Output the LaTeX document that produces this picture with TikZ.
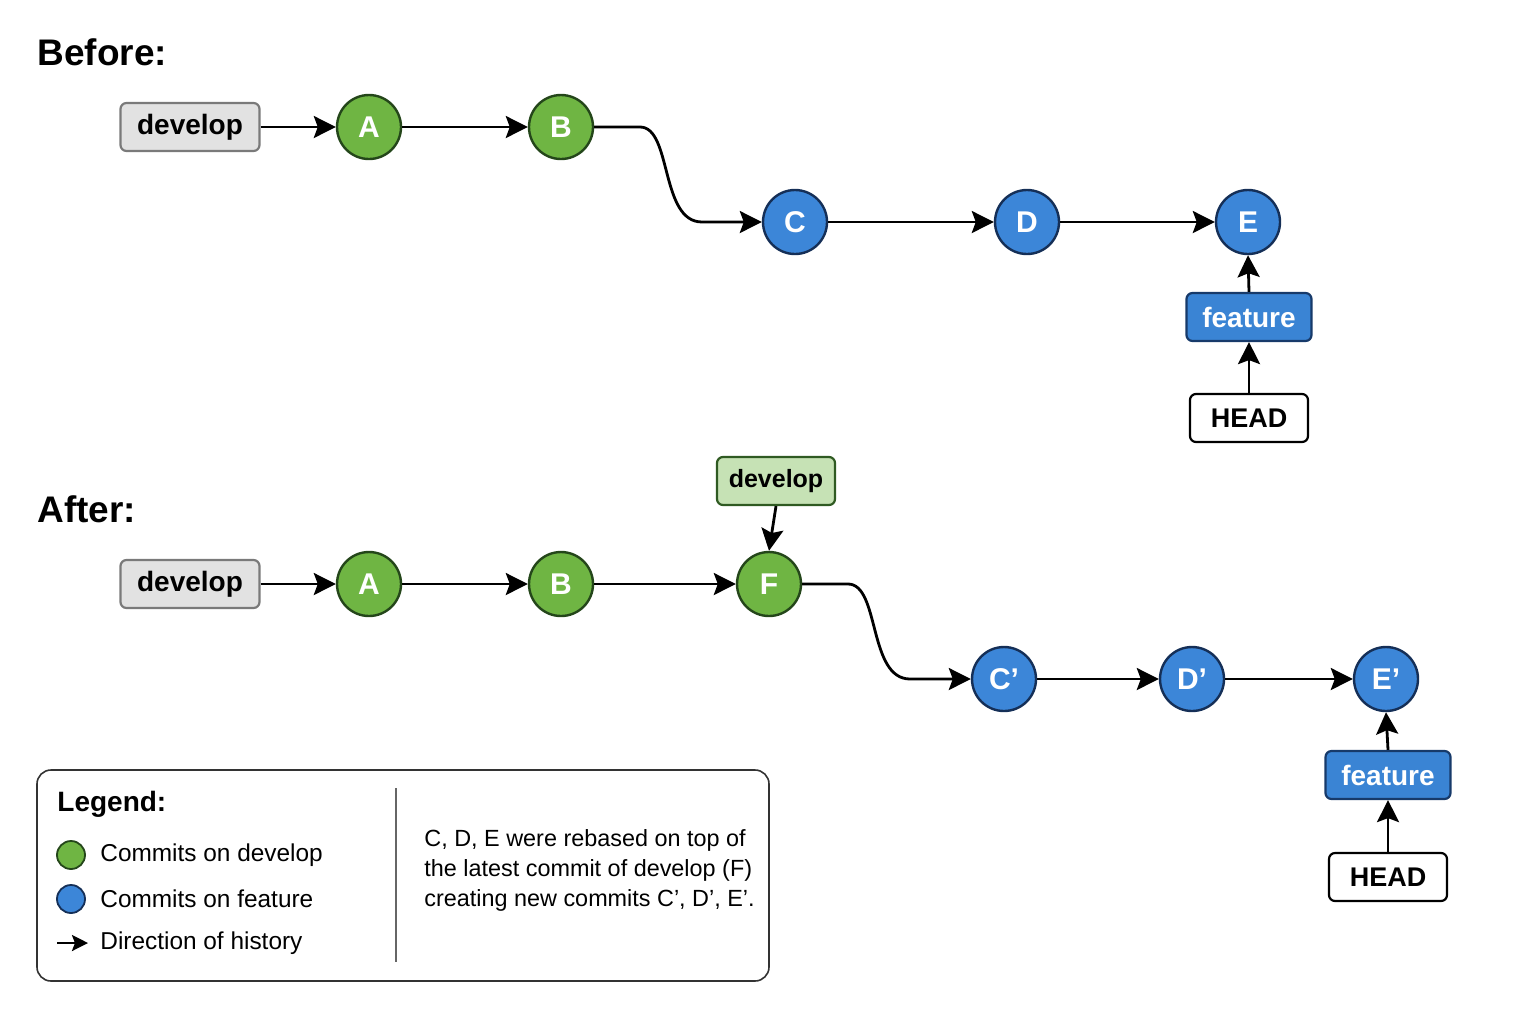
\documentclass[tikz,border=0pt]{standalone}
\usepackage{fontspec}
\setmainfont{Liberation Sans}
\usetikzlibrary{arrows.meta}
\definecolor{gfill}{HTML}{6FB543}
\definecolor{gdraw}{HTML}{24461A}
\definecolor{bfill}{HTML}{3C86D8}
\definecolor{bdraw}{HTML}{152F57}
\definecolor{grayfill}{HTML}{E2E2E2}
\definecolor{graydraw}{HTML}{7A7A7A}
\definecolor{lgfill}{HTML}{C6E2B5}
\definecolor{lgdraw}{HTML}{2F5A22}
\definecolor{featfill}{HTML}{3A84D4}
\definecolor{featdraw}{HTML}{173A6A}
\begin{document}
\begin{tikzpicture}[x=0.5pt,y=-0.5pt,
  commit/.style={circle,minimum size=32pt,inner sep=0pt,line width=1.2pt,text=white,font=\fontsize{15}{18}\selectfont\bfseries},
  gcommit/.style={commit,fill=gfill,draw=gdraw},
  bcommit/.style={commit,fill=bfill,draw=bdraw},
  refbox/.style={rounded corners=3pt,minimum height=24pt,inner sep=0pt,line width=1.1pt,font=\fontsize{14}{17}\selectfont\bfseries},
  graybox/.style={refbox,fill=grayfill,draw=graydraw,minimum width=69.5pt,text height=10pt,text depth=3pt},
  greenbox/.style={refbox,fill=lgfill,draw=lgdraw,minimum width=59pt,font=\fontsize{12.5}{15}\selectfont\bfseries,text height=9pt,text depth=2.7pt},
  featbox/.style={refbox,fill=featfill,draw=featdraw,text=white,minimum width=62.5pt,text height=10pt,text depth=0pt},
  headbox/.style={refbox,fill=white,draw=black,minimum width=59pt,font=\fontsize{13.5}{16}\selectfont\bfseries,text height=9.7pt,text depth=0pt},
  hist/.style={-{Stealth[length=11pt,width=11pt,inset=2pt]},line width=1.4pt},
  title/.style={anchor=west,inner sep=0pt,font=\fontsize{18.5}{22}\selectfont\bfseries},
  legtext/.style={anchor=west,inner sep=0pt,font=\fontsize{12.2}{15}\selectfont}
]
\useasboundingbox (0,0) rectangle (1536,1024);

% ---------------- Before ----------------
\node[title] (tb) at (37,52) {Before:};
\node[graybox] (dev1) at (190,127) {develop};
\node[gcommit] (A1) at (369,127) {A};
\node[gcommit] (B1) at (561,127) {B};
\node[bcommit] (C1) at (795,222) {C};
\node[bcommit] (D1) at (1027,222) {D};
\node[bcommit] (E1) at (1248,222) {E};
\node[featbox] (feat1) at (1249,317) {feature};
\node[headbox] (head1) at (1249,418) {HEAD};

\draw[hist] (dev1) -- (A1);
\draw[hist] (A1) -- (B1);
\draw[hist] (B1.east) -- (640,127) .. controls (672,127) and (660,222) .. (702,222) -- (C1.west);
\draw[hist] (C1) -- (D1);
\draw[hist] (D1) -- (E1);
\draw[hist] (feat1.north) -- (E1.south);
\draw[hist] (head1.north) -- (feat1.south);

% ---------------- After ----------------
\node[title] (ta) at (37,509) {After:};
\node[graybox] (dev2) at (190,584) {develop};
\node[gcommit] (A2) at (369,584) {A};
\node[gcommit] (B2) at (561,584) {B};
\node[gcommit] (F2) at (769,584) {F};
\node[greenbox] (dev3) at (776,481) {develop};
\node[bcommit] (C2) at (1004,679) {C’};
\node[bcommit] (D2) at (1192,679) {D’};
\node[bcommit] (E2) at (1386,679) {E’};
\node[featbox] (feat2) at (1388,775) {feature};
\node[headbox] (head2) at (1388,877) {HEAD};

\draw[hist] (dev2) -- (A2);
\draw[hist] (A2) -- (B2);
\draw[hist] (B2) -- (F2);
\draw[hist] (dev3.south) -- (F2.north);
\draw[hist] (F2.east) -- (848,584) .. controls (880,584) and (868,679) .. (910,679) -- (C2.west);
\draw[hist] (C2) -- (D2);
\draw[hist] (D2) -- (E2);
\draw[hist] (feat2.north) -- (E2.south);
\draw[hist] (head2.north) -- (feat2.south);

% ---------------- Legend ----------------
\node[draw=black!80,line width=0.8pt,rounded corners=7pt,minimum width=366pt,minimum height=105.5pt,inner sep=0pt] (leg) at (403,875.5) {};
\draw[black!60,line width=0.7pt] (396,788) coordinate (dtop) -- (396,962) coordinate (dbot);
\node[anchor=west,inner sep=0pt,font=\fontsize{14}{17}\selectfont\bfseries] (legt) at (57,804) {Legend:};
\node[circle,fill=gfill,draw=gdraw,line width=0.9pt,minimum size=14pt,inner sep=0pt] (lg) at (71,855) {};
\node[legtext] (lgt) at (100,855) {Commits on develop};
\node[circle,fill=bfill,draw=bdraw,line width=0.9pt,minimum size=14pt,inner sep=0pt] (lb) at (71,899) {};
\node[legtext] (lbt) at (100,899) {Commits on feature};
\coordinate (la1) at (57,943);
\coordinate (la2) at (88,943);
\draw[-{Stealth[length=8pt,width=8pt,inset=1.5pt]},line width=1.3pt] (la1) -- (la2);
\node[legtext] (lat) at (100,943) {Direction of history};
\node[anchor=north west,inner sep=0pt,align=left,font=\fontsize{11.7}{15}\selectfont] (note) at (424,829)
  {C, D, E were rebased on top of\\the latest commit of develop (F)\\creating new commits C’, D’, E’.};
\end{tikzpicture}
\end{document}
